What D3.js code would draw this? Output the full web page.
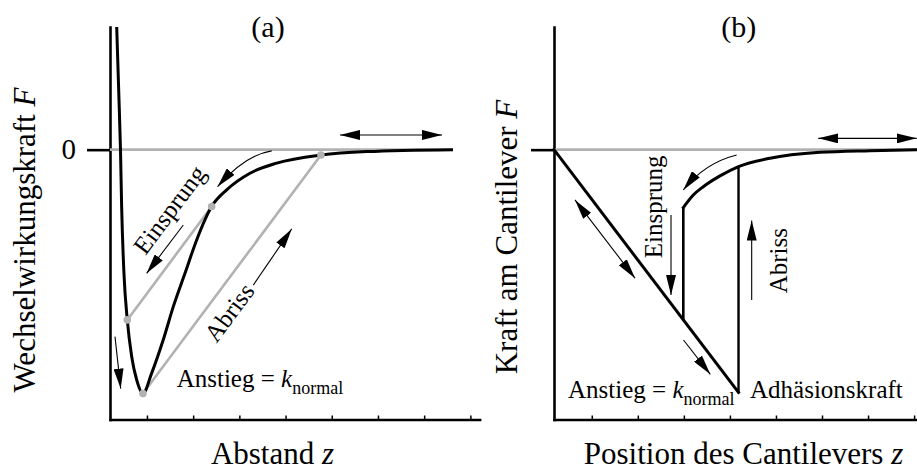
<!DOCTYPE html>
<html>
<head>
<meta charset="utf-8">
<script src="https://cdn.jsdelivr.net/npm/d3@7"></script>
<style>
  html, body { margin: 0; padding: 0; background: #fff; }
  svg { display: block; }
</style>
</head>
<body>
<svg id="chart" width="917" height="471"></svg>
<script>
// ---------- data ----------
const zTicks = [1, 2, 3, 4, 5, 6, 7, 8];
const yTickLabels = ["0"];
const panelTitles = ["(a)", "(b)"];

// (a) interaction force vs. tip-sample distance
const forceZ = [0.345, 0.388, 0.427, 0.452, 0.502, 0.574, 0.670, 0.778, 0.914, 1.100, 1.351,
                1.570, 1.823, 2.076, 2.400, 2.725, 3.230, 3.808, 4.766, 5.756, 7.625];
const forceF = [0.5, 0.243, 0, -0.232, -0.504, -0.694, -0.844, -0.939, -0.994, -0.912, -0.776,
                -0.640, -0.504, -0.368, -0.232, -0.164, -0.096, -0.055, -0.022, -0.008, 0];
// spring lines (slope = k_normal): jump-in and pull-off
const jumpInZ = [0.574, 2.400];
const jumpInF = [-0.694, -0.232];
const pullOffZ = [0.914, 4.766];
const pullOffF = [-0.994, -0.022];
const zeroLineAZ = [0.2, 7.625];

// (b) cantilever force vs. cantilever position
const contactZ = [0.18, 4.187];
const contactF = [0, -0.99];
const jumpLineZ = 2.988;
const jumpLineF = [-0.694, -0.236];
const pullLineZ = 4.187;
const pullLineF = [-0.99, -0.069];
const tailZ = [2.988, 3.205, 3.422, 3.785, 4.187, 4.871, 5.956, 7.042, 8.063];
const tailF = [-0.236, -0.185, -0.151, -0.107, -0.069, -0.035, -0.011, -0.004, 0];
const zeroLineBZ = [0.18, 8.063];

// direction arrows: [z0, F0, z1, F1] (head at the second point)
const arrowsA = [
  [1.787, -0.307, 0.994, -0.504],   // Einsprung
  [3.302, -0.552, 4.133, -0.323],   // Abriss
  [0.308, -0.762, 0.432, -0.974]    // pressing into repulsive wall
];
const doubleArrowA = [5.178, 0.06, 7.386, 0.06];
const curvedArrowA = [3.70, -0.005, 3.122, -0.022, 2.527, -0.151]; // start, control, end

const arrowsB = [
  [2.721, -0.266, 2.721, -0.592],   // Einsprung
  [4.473, -0.613, 4.473, -0.289],   // Abriss
  [2.992, -0.776, 3.574, -0.916]    // loading along contact line
];
const doubleArrowsB = [
  [5.919, 0.046, 8.056, 0.046],
  [0.636, -0.205, 1.939, -0.524]
];
const curvedArrowB = [4.147, -0.022, 3.459, -0.054, 2.988, -0.164];

// ---------- setup ----------
const SERIF = "'Liberation Serif','Times New Roman',Times,serif";
const GREY = "#b2b2b2";
const svg = d3.select("#chart");
svg.append("rect").attr("width", 917).attr("height", 471).attr("fill", "#fff");

const y = d3.scaleLinear().domain([-1.1, 0.5]).range([419.5, 27]);
const xA = d3.scaleLinear().domain([0.2, 8.2]).range([110, 479.6]);
const xB = d3.scaleLinear().domain([0.18, 8.063]).range([554, 917]);

const defs = svg.append("defs");
defs.append("marker")
  .attr("id", "head")
  .attr("viewBox", "0 0 20 10")
  .attr("refX", 20).attr("refY", 5)
  .attr("markerWidth", 20).attr("markerHeight", 10)
  .attr("markerUnits", "userSpaceOnUse")
  .attr("orient", "auto-start-reverse")
  .append("path").attr("d", "M0,0L20,5L0,10Z").attr("fill", "#000");

// ---------- axes ----------
function drawAxes(x, showZeroLabel) {
  const gx = svg.append("g")
    .attr("transform", `translate(0,${y.range()[0]})`)
    .call(d3.axisTop(x).tickValues(zTicks).tickSize(4).tickSizeOuter(0).tickFormat(""));
  gx.select(".domain").attr("stroke-width", 2.6).attr("stroke-linecap", "square");
  gx.selectAll(".tick line").attr("stroke-width", 1.5);

  const gy = svg.append("g")
    .attr("transform", `translate(${x.range()[0]},0)`)
    .attr("font-family", SERIF)
    .call(d3.axisLeft(y).tickValues([0]).tickSize(23).tickSizeOuter(0).tickPadding(11)
      .tickFormat(showZeroLabel ? () => yTickLabels[0] : ""));
  gy.attr("font-family", SERIF).attr("font-size", 29);
  gy.select(".domain").attr("stroke-width", 2.6).attr("stroke-linecap", "square");
  gy.selectAll(".tick line").attr("stroke-width", 2.6);
  gy.selectAll(".tick text").attr("fill", "#000");
}
drawAxes(xA, true);
drawAxes(xB, false);

// ---------- helpers ----------
function seg(x, z0, f0, z1, f1, stroke, width) {
  return svg.append("line")
    .attr("x1", x(z0)).attr("y1", y(f0)).attr("x2", x(z1)).attr("y2", y(f1))
    .attr("stroke", stroke).attr("stroke-width", width);
}
function arrow(x, a, double) {
  const l = seg(x, a[0], a[1], a[2], a[3], "#000", 1.1).attr("marker-end", "url(#head)");
  if (double) l.attr("marker-start", "url(#head)");
}
function curvedArrow(x, c) {
  svg.append("path")
    .attr("d", `M${x(c[0])},${y(c[1])}Q${x(c[2])},${y(c[3])} ${x(c[4])},${y(c[5])}`)
    .attr("fill", "none").attr("stroke", "#000").attr("stroke-width", 1.1)
    .attr("marker-end", "url(#head)");
}
function richText(g, parts) {
  parts.forEach(p => {
    const t = g.append("tspan").text(p.t);
    if (p.italic) t.attr("font-style", "italic");
    if (p.size) t.attr("font-size", p.size);
    if (p.dy) t.attr("dy", p.dy);
  });
  return g;
}
function label(x0, y0, size, parts, opts = {}) {
  const t = svg.append("text")
    .attr("font-family", SERIF).attr("font-size", size).attr("fill", "#000")
    .attr("text-anchor", opts.anchor || "start")
    .attr("transform", `translate(${x0},${y0})` + (opts.rotate ? ` rotate(${opts.rotate})` : ""));
  return richText(t, parts);
}

// ---------- panel (a) ----------
seg(xA, zeroLineAZ[0], 0, zeroLineAZ[1], 0, GREY, 2.6);
seg(xA, jumpInZ[0], jumpInF[0], jumpInZ[1], jumpInF[1], GREY, 2.6);
seg(xA, pullOffZ[0], pullOffF[0], pullOffZ[1], pullOffF[1], GREY, 2.6);

const lineA = d3.line().x(i => xA(forceZ[i])).y(i => y(forceF[i])).curve(d3.curveMonotoneX);
svg.append("path").attr("d", lineA(d3.range(forceZ.length)))
  .attr("fill", "none").attr("stroke", "#000").attr("stroke-width", 3)
  .attr("stroke-linejoin", "round");

const dotsA = [[jumpInZ[0], jumpInF[0]], [jumpInZ[1], jumpInF[1]],
               [pullOffZ[0], pullOffF[0]], [pullOffZ[1], pullOffF[1]]];
svg.selectAll("circle.dotA").data(dotsA).join("circle")
  .attr("class", "dotA")
  .attr("cx", d => xA(d[0])).attr("cy", d => y(d[1])).attr("r", 3.8).attr("fill", GREY);

arrowsA.forEach(a => arrow(xA, a, false));
arrow(xA, doubleArrowA, true);
curvedArrow(xA, curvedArrowA);

// rotated labels along the spring lines
const angA = Math.atan2(y(jumpInF[1]) - y(jumpInF[0]), xA(jumpInZ[1]) - xA(jumpInZ[0])) * 180 / Math.PI;
label(176.2, 214.8, 25, [{ t: "Einsprung" }], { anchor: "middle", rotate: angA });
label(236, 317.5, 25, [{ t: "Abriss" }], { anchor: "middle", rotate: angA });

label(176.7, 386.7, 25, [{ t: "Anstieg = " }, { t: "k", italic: true },
  { t: "normal", size: 18, dy: 7 }]);

label(268, 37, 30, [{ t: panelTitles[0] }], { anchor: "middle" });
label(35, 240, 31, [{ t: "Wechselwirkungskraft " }, { t: "F", italic: true }],
  { anchor: "middle", rotate: -90 });
label(272.5, 464, 31, [{ t: "Abstand " }, { t: "z", italic: true }], { anchor: "middle" });

// ---------- panel (b) ----------
seg(xB, zeroLineBZ[0], 0, zeroLineBZ[1], 0, GREY, 2.6);
seg(xB, contactZ[0], contactF[0], contactZ[1], contactF[1], "#000", 3).attr("stroke-linecap", "square");
seg(xB, jumpLineZ, jumpLineF[0], jumpLineZ, jumpLineF[1], "#000", 2.6);
seg(xB, pullLineZ, pullLineF[0], pullLineZ, pullLineF[1], "#000", 2.4);

const lineB = d3.line().x(i => xB(tailZ[i])).y(i => y(tailF[i])).curve(d3.curveMonotoneX);
svg.append("path").attr("d", lineB(d3.range(tailZ.length)))
  .attr("fill", "none").attr("stroke", "#000").attr("stroke-width", 3)
  .attr("stroke-linecap", "square");

arrowsB.forEach(a => arrow(xB, a, false));
doubleArrowsB.forEach(a => arrow(xB, a, true));
curvedArrow(xB, curvedArrowB);

label(661.7, 258.3, 25, [{ t: "Einsprung" }], { rotate: -90 });
label(786.5, 293.3, 25, [{ t: "Abriss" }], { rotate: -90 });
label(568, 398, 25, [{ t: "Anstieg = " }, { t: "k", italic: true },
  { t: "normal", size: 18, dy: 7 }]);
label(750, 398, 25, [{ t: "Adhäsionskraft" }]);

label(738.7, 37, 30, [{ t: panelTitles[1] }], { anchor: "middle" });
label(516.7, 237, 31, [{ t: "Kraft am Cantilever " }, { t: "F", italic: true }],
  { anchor: "middle", rotate: -90 });
label(743.5, 464, 31, [{ t: "Position des Cantilevers " }, { t: "z", italic: true }],
  { anchor: "middle" });
</script>
</body>
</html>
